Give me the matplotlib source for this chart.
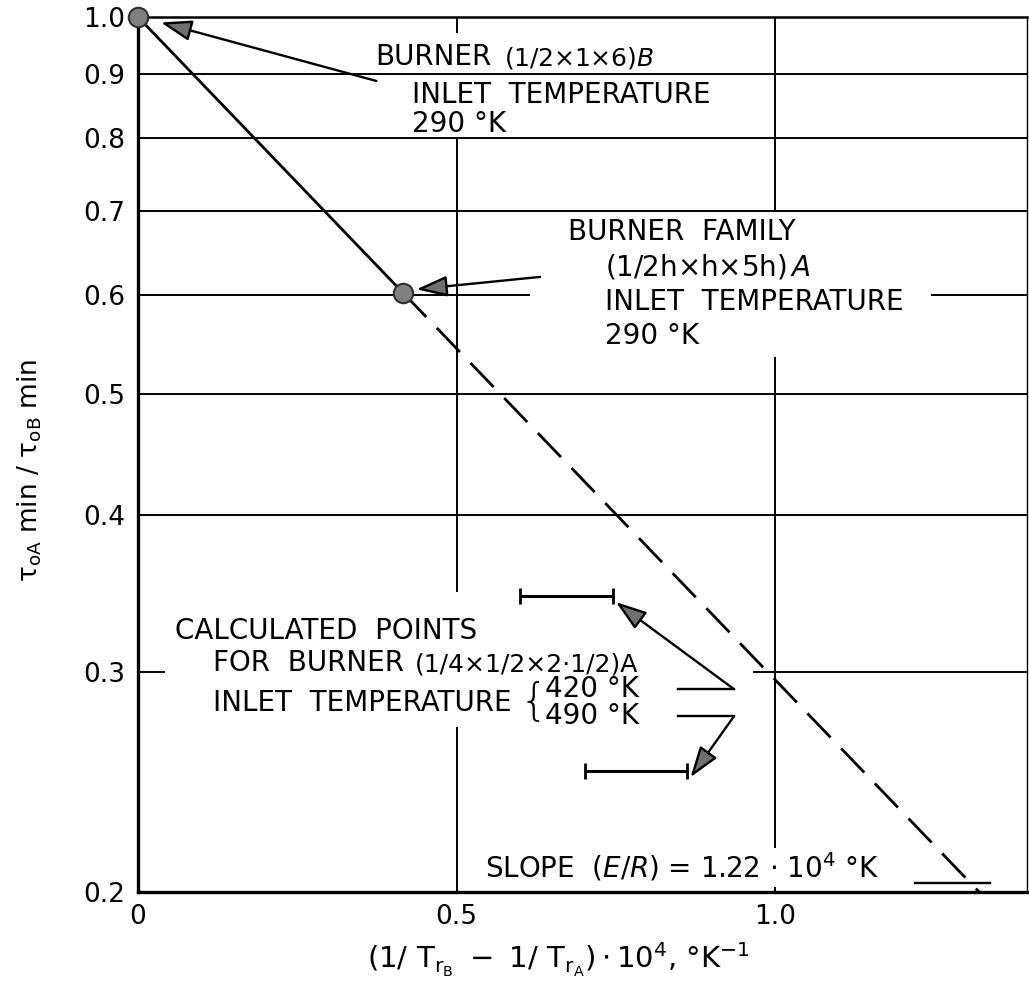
import numpy as np
import matplotlib
matplotlib.use("Agg")
import matplotlib.pyplot as plt
from matplotlib.ticker import NullLocator, NullFormatter

plt.rcParams['font.family'] = ['DejaVu Sans']
plt.rcParams['mathtext.fontset'] = 'dejavusans'
plt.rcParams['mathtext.default'] = 'regular'

# Correlation line: ratio of minimum ignition delays vs (1/T_rB - 1/T_rA)*10^4
line_x = [0.0, 0.416, 1.32]
line_y = [1.0, 0.602, 0.20]
SLOPE_E_R = 1.22  # E/R in units of 10^4 K

# Measured burners (reference burner B and burner family A), inlet 290 K
point_x = [0.0, 0.416]
point_y = [1.0, 0.602]

# Calculated ranges for burner (1/4 x 1/2 x 2 1/2)A at two inlet temperatures
calc_temps = ["420 °K", "490 °K"]
calc_xmin = [0.600, 0.702]
calc_xmax = [0.745, 0.862]
calc_y = [0.345, 0.250]

y_ticks = [0.2, 0.3, 0.4, 0.5, 0.6, 0.7, 0.8, 0.9, 1.0]
y_tick_labels = ["0.2", "0.3", "0.4", "0.5", "0.6", "0.7", "0.8", "0.9", "1.0"]
x_ticks = [0.0, 0.5, 1.0]
x_tick_labels = ["0", "0.5", "1.0"]

XMAX = 1.395

fig = plt.figure(figsize=(10.29, 9.82), dpi=100)
ax = fig.add_axes([138 / 1029, 90 / 982, 889 / 1029, 875 / 982])
ax.set_yscale('log')
ax.set_xlim(0, XMAX)
ax.set_ylim(0.2, 1.0)

ax.set_yticks(y_ticks)
ax.set_yticklabels(y_tick_labels)
ax.yaxis.set_minor_locator(NullLocator())
ax.yaxis.set_minor_formatter(NullFormatter())
ax.set_xticks(x_ticks)
ax.set_xticklabels(x_tick_labels)
ax.tick_params(length=0, pad=9, labelsize=19)

for side, lw in (('left', 2.4), ('bottom', 2.4), ('top', 1.8), ('right', 1.0)):
    ax.spines[side].set_linewidth(lw)

grid_kw = dict(color='black', lw=1.4, zorder=1, solid_capstyle='butt')

# Horizontal grid lines, interrupted where lettering sits
for yv in y_ticks[1:-1]:
    if np.isclose(yv, 0.6):
        ax.plot([0, 0.615], [yv, yv], **grid_kw)
        ax.plot([1.245, XMAX], [yv, yv], **grid_kw)
    elif np.isclose(yv, 0.3):
        ax.plot([0, 0.042], [yv, yv], **grid_kw)
        ax.plot([0.965, XMAX], [yv, yv], **grid_kw)
    else:
        ax.plot([0, XMAX], [yv, yv], **grid_kw)

# Vertical grid lines, interrupted where lettering sits
ax.plot([0.5, 0.5], [1.0, 0.971], **grid_kw)
ax.plot([0.5, 0.5], [0.8, 0.347], **grid_kw)
ax.plot([0.5, 0.5], [0.271, 0.2], **grid_kw)
ax.plot([1.0, 1.0], [1.0, 0.7], **grid_kw)
ax.plot([1.0, 1.0], [0.535, 0.217], **grid_kw)
ax.plot([1.0, 1.0], [0.202, 0.2], **grid_kw)

# Correlation line: solid through measured range, dashed extrapolation
ax.plot(line_x[:2], line_y[:2], color='black', lw=2.0, zorder=3)
ax.plot(line_x[1:], line_y[1:], color='black', lw=2.0, zorder=3,
        dashes=(12, 5.5))

# Measured points
ax.plot(point_x, point_y, 'o', ms=14, mfc='#808080', mec='#303030',
        mew=1.5, zorder=5, clip_on=False)

# Calculated ranges with end caps
ax.hlines(calc_y, calc_xmin, calc_xmax, color='black', lw=2.2, zorder=3)
ax.plot(calc_xmin + calc_xmax, calc_y + calc_y, '|', color='black',
        ms=12, mew=2.0, zorder=3)

arrow_kw = dict(arrowstyle="-|>,head_length=0.95,head_width=0.32",
                mutation_scale=20, fc="#707070", ec="black", lw=1.7,
                shrinkA=0, shrinkB=0)

txt_kw = dict(fontsize=20, ha='left', va='center', color='black', zorder=6)


def lettering(x, y, parts, gap=5):
    """Write one line of lettering made of (text, fontsize) pieces."""
    first_text, first_size = parts[0]
    prev = ax.text(x, y, first_text, **{**txt_kw, 'fontsize': first_size})
    for piece, size in parts[1:]:
        prev = ax.annotate(piece, xy=(1, 0), xycoords=prev,
                           xytext=(gap, 0), textcoords='offset points',
                           fontsize=size, ha='left', va='bottom', zorder=6)
    return prev


# Burner B annotation
lettering(0.372, 0.929, [("BURNER", 20), (r"(1/2×1×6)$\mathit{B}$", 18)], gap=9)
ax.text(0.430, 0.866, "INLET  TEMPERATURE", **txt_kw)
ax.text(0.430, 0.821, "290 °K", **txt_kw)
ax.annotate("", xy=(0.036, 0.990), xytext=(0.374, 0.889),
            arrowprops=arrow_kw, zorder=6)

# Burner family A annotation
ax.text(0.675, 0.673, "BURNER  FAMILY", **txt_kw)
ax.text(0.733, 0.631, r"(1/2h×h×5h)$\,\mathit{A}$", **txt_kw)
ax.text(0.733, 0.592, "INLET  TEMPERATURE", **txt_kw)
ax.text(0.733, 0.556, "290 °K", **txt_kw)
ax.annotate("", xy=(0.437, 0.606), xytext=(0.631, 0.620),
            arrowprops=arrow_kw, zorder=6)

# Calculated points annotation
ax.text(0.058, 0.3233, "CALCULATED  POINTS", **txt_kw)
lettering(0.118, 0.3050, [("FOR  BURNER", 20), ("(1/4×1/2×2·1/2)A", 18)],
          gap=8)
ax.text(0.118, 0.283, "INLET  TEMPERATURE", **txt_kw)
ax.text(0.598, 0.2833, "{", fontsize=32, ha='left', va='center',
        fontweight='light', zorder=6)
temp_label_y = [0.2905, 0.2762]
for label, ty, bx, by in zip(calc_temps, temp_label_y, calc_xmax, calc_y):
    ax.text(0.638, ty, label, **txt_kw)
    ax.plot([0.848, 0.935], [ty, ty], color='black', lw=1.7, zorder=4)
    ax.annotate("", xy=(bx + 0.005, by * 0.988), xytext=(0.935, ty),
                arrowprops=arrow_kw, zorder=6)

# Slope annotation with leader line
ax.text(0.545, 0.2095,
        r"SLOPE  ($\mathit{E/R}$) = 1.22 $\cdot$ 10$^4$ °K", **txt_kw)
ax.plot([1.22, 1.337], [0.2035, 0.2035], color='black', lw=1.7, zorder=4)

# Axis titles
fig.text(30 / 1029, 1 - 470 / 982,
         r"$\tau_{oA}$ min / $\tau_{oB}$ min",
         rotation=90, ha='center', va='center', fontsize=19)
fig.text(558 / 1029, 1 - 960 / 982,
         r"$\left(1/\ T_{r_B}\ -\ 1/\ T_{r_A}\right)\cdot 10^4$, °K$^{-1}$",
         ha='center', va='center', fontsize=21)

fig.savefig("out.png", dpi=100)
